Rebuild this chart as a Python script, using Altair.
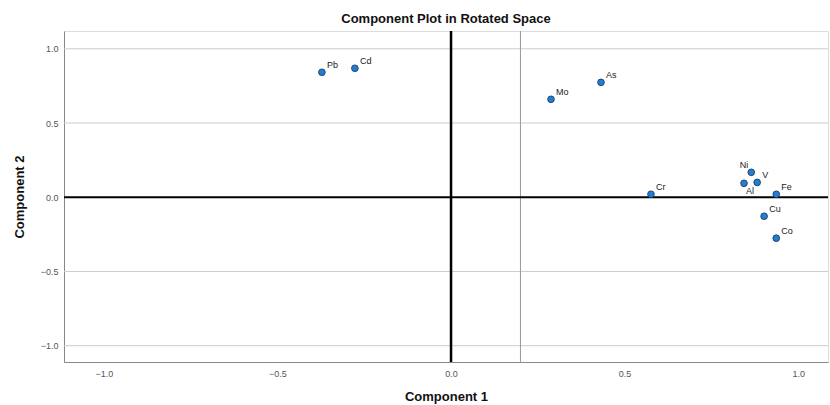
import altair as alt
import pandas as pd

labels = ["Pb", "Cd", "Mo", "As", "Cr", "Ni", "V", "Al", "Fe", "Cu", "Co"]
comp1 = [-0.372, -0.277, 0.288, 0.432, 0.576, 0.865, 0.882, 0.844, 0.937, 0.902, 0.937]
comp2 = [0.842, 0.869, 0.660, 0.774, 0.020, 0.168, 0.100, 0.094, 0.020, -0.128, -0.276]
x_ticks = [-1.0, -0.5, 0.0, 0.5, 1.0]
y_ticks = [-1.0, -0.5, 0.0, 0.5, 1.0]
ref_x = 0.2

df = pd.DataFrame({"label": labels, "c1": comp1, "c2": comp2})

FONT = "Liberation Sans"
xs = alt.Scale(domain=[-1.115, 1.086], nice=False, zero=False)
ys = alt.Scale(domain=[-1.11, 1.12], nice=False, zero=False)

base = alt.Chart(df)

grid = alt.Chart(pd.DataFrame({"y": [v for v in y_ticks if v != 0]})).mark_rule(
    color="#cccccc", strokeWidth=1
).encode(y=alt.Y("y:Q", scale=ys))

vref = alt.Chart(pd.DataFrame({"x": [ref_x]})).mark_rule(color="#999999", strokeWidth=1).encode(
    x=alt.X("x:Q", scale=xs)
)
zero_v = alt.Chart(pd.DataFrame({"x": [0.0]})).mark_rule(color="#000000", strokeWidth=2.5).encode(
    x=alt.X("x:Q", scale=xs)
)
zero_h = alt.Chart(pd.DataFrame({"y": [0.0]})).mark_rule(color="#000000", strokeWidth=2).encode(
    y=alt.Y("y:Q", scale=ys)
)

points = base.mark_point(filled=True, size=45, color="#1f7fd6", stroke="#1a3050", strokeWidth=0.8, opacity=1).encode(
    x=alt.X("c1:Q", scale=xs, title="Component 1",
            axis=alt.Axis(values=x_ticks, format=".1f", grid=False, ticks=False, domain=True,
                          domainColor="#888888", labelFontSize=9, labelColor="#555555", labelPadding=7,
                          labelFont=FONT, titleFont=FONT, titleFontSize=13, titleFontWeight="bold",
                          titlePadding=12, titleColor="#111111")),
    y=alt.Y("c2:Q", scale=ys, title="Component 2",
            axis=alt.Axis(values=y_ticks, format=".1f", grid=False, ticks=False, domain=True,
                          domainColor="#888888", labelFontSize=9, labelColor="#555555", labelPadding=6,
                          labelFont=FONT, titleFont=FONT, titleFontSize=13, titleFontWeight="bold",
                          titlePadding=14, titleColor="#111111")),
)

normal = base.transform_filter(
    alt.FieldOneOfPredicate(field="label", oneOf=["Pb", "Cd", "Mo", "As", "Cr", "V", "Fe", "Cu", "Co"])
).mark_text(align="left", baseline="bottom", dx=5, dy=-2, fontSize=9, font=FONT, color="#222222").encode(
    x=alt.X("c1:Q", scale=xs), y=alt.Y("c2:Q", scale=ys), text="label:N"
)
ni = base.transform_filter(alt.FieldEqualPredicate(field="label", equal="Ni")).mark_text(
    align="right", baseline="bottom", dx=-3, dy=-2, fontSize=9, font=FONT, color="#222222"
).encode(x=alt.X("c1:Q", scale=xs), y=alt.Y("c2:Q", scale=ys), text="label:N")
al = base.transform_filter(alt.FieldEqualPredicate(field="label", equal="Al")).mark_text(
    align="left", baseline="top", dx=2, dy=4, fontSize=9, font=FONT, color="#222222"
).encode(x=alt.X("c1:Q", scale=xs), y=alt.Y("c2:Q", scale=ys), text="label:N")

chart = alt.layer(grid, vref, zero_v, zero_h, points, normal, ni, al).properties(
    width=764, height=331,
    title=alt.TitleParams("Component Plot in Rotated Space", font=FONT, fontSize=13,
                          fontWeight="bold", color="#111111", anchor="middle", offset=4),
    padding={"left": 64, "top": 31, "right": 2, "bottom": 43},
    autosize="none",
).configure_view(stroke=None).configure(background="white")

chart.save("out.html", embed_options={"renderer": "svg", "actions": False})
